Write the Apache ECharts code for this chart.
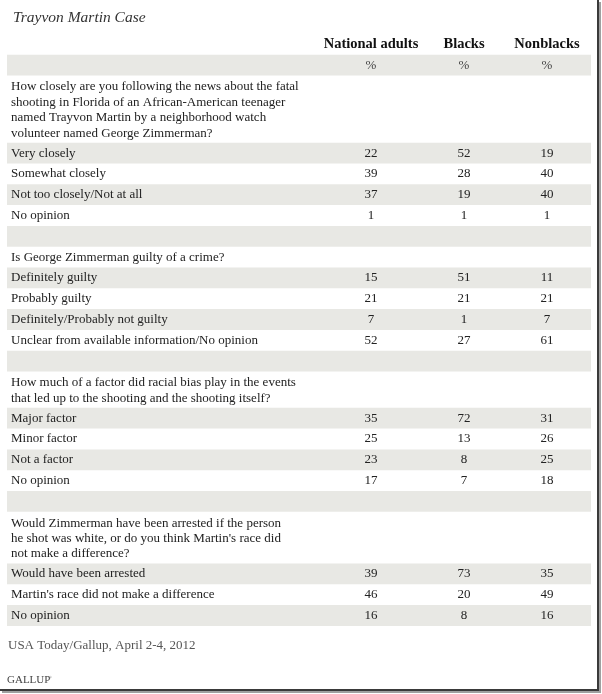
<!DOCTYPE html>
<html><head><meta charset="utf-8">
<script src="https://cdn.jsdelivr.net/npm/echarts@6/dist/echarts.min.js"></script>
<style>html,body{margin:0;padding:0;background:#fff}#c{width:602px;height:694px}</style>
</head><body><div id="c"></div>
<script>
// ---------- data ----------
const chartTitle = 'Trayvon Martin Case';
const columns = ['National adults', 'Blacks', 'Nonblacks'];
const unitLabel = '%';

const q1 = 'How closely are you following the news about the fatal\nshooting in Florida of an African-American teenager\nnamed Trayvon Martin by a neighborhood watch\nvolunteer named George Zimmerman?';
const q1Answers = ['Very closely', 'Somewhat closely', 'Not too closely/Not at all', 'No opinion'];
const q1National = [22, 39, 37, 1];
const q1Blacks = [52, 28, 19, 1];
const q1Nonblacks = [19, 40, 40, 1];

const q2 = 'Is George Zimmerman guilty of a crime?';
const q2Answers = ['Definitely guilty', 'Probably guilty', 'Definitely/Probably not guilty', 'Unclear from available information/No opinion'];
const q2National = [15, 21, 7, 52];
const q2Blacks = [51, 21, 1, 27];
const q2Nonblacks = [11, 21, 7, 61];

const q3 = 'How much of a factor did racial bias play in the events\nthat led up to the shooting and the shooting itself?';
const q3Answers = ['Major factor', 'Minor factor', 'Not a factor', 'No opinion'];
const q3National = [35, 25, 23, 17];
const q3Blacks = [72, 13, 8, 7];
const q3Nonblacks = [31, 26, 25, 18];

const q4 = "Would Zimmerman have been arrested if the person\nhe shot was white, or do you think Martin's race did\nnot make a difference?";
const q4Answers = ['Would have been arrested', "Martin's race did not make a difference", 'No opinion'];
const q4National = [39, 46, 16];
const q4Blacks = [73, 20, 8];
const q4Nonblacks = [35, 49, 16];

const sourceNote = 'USA Today/Gallup, April 2-4, 2012';
const brand = 'GALLUP';

// ---------- layout / style ----------
const FONT = '"Liberation Serif", "DejaVu Serif", serif';
const FS = 13;
const ROW_H = 20.8, LINE_H = 15.4, PAD = 4;
const TABLE_W = 584;
const COL_X = [364, 457, 540];
const TEXT_X = 4;
const BAND = '#e8e8e4';
const INK = '#222';

const blocks = [
  [q1, q1Answers, [q1National, q1Blacks, q1Nonblacks]],
  [q2, q2Answers, [q2National, q2Blacks, q2Nonblacks]],
  [q3, q3Answers, [q3National, q3Blacks, q3Nonblacks]],
  [q4, q4Answers, [q4National, q4Blacks, q4Nonblacks]]
];

const rows = [];
rows.push({ kind: 'header', h: ROW_H });
rows.push({ kind: 'unit', h: ROW_H });
blocks.forEach((b, bi) => {
  if (bi > 0) rows.push({ kind: 'blank', h: ROW_H });
  const n = b[0].split('\n').length;
  rows.push({ kind: 'question', text: b[0], h: n === 1 ? ROW_H : PAD + n * LINE_H + 1.5 });
  b[1].forEach((a, ai) => rows.push({ kind: 'answer', text: a, vals: b[2].map(s => s[ai]) }));
});
let y = 0;
rows.forEach((r, i) => {
  if (!r.h) r.h = ROW_H;
  r.y0 = y; r.y1 = y + r.h; r.yc = y + r.h / 2; y += r.h;
  r.shade = r.kind !== 'header' && (i - 1) % 2 === 0;
});
const TOTAL = y;

const bandData = rows.filter(r => r.shade).map(r => [r.y0, r.y1]);
const labelRows = rows.filter(r => r.kind === 'question' || r.kind === 'answer');
const labelData = labelRows.map(r => [TEXT_X, r.kind === 'question' && r.text.indexOf('\n') >= 0 ? r.yc + 1 : r.yc]);
const headerRow = rows[0], unitRow = rows[1];
const answerRows = rows.filter(r => r.kind === 'answer');

function textItem(x, yy, txt, opts) {
  return {
    type: 'text', x: x, y: yy,
    style: Object.assign({ text: txt, fill: INK, fontFamily: FONT, fontSize: FS, align: 'left', verticalAlign: 'middle' }, opts || {})
  };
}

const series = [
  {
    type: 'custom', name: 'bands', silent: true, z: 1,
    data: bandData,
    renderItem: (p, api) => {
      const a = api.coord([0, api.value(0)]);
      const b = api.coord([TABLE_W, api.value(1)]);
      return { type: 'rect', shape: { x: a[0], y: a[1], width: b[0] - a[0], height: b[1] - a[1] }, style: { fill: BAND } };
    }
  },
  {
    type: 'custom', name: 'labels', silent: true, z: 3,
    data: labelData,
    renderItem: (p, api) => {
      const c = api.coord([api.value(0), api.value(1)]);
      return textItem(c[0], c[1], labelRows[p.dataIndex].text, { lineHeight: LINE_H });
    }
  },
  {
    type: 'custom', name: 'header', silent: true, z: 3,
    data: columns.map((c, i) => [COL_X[i], headerRow.yc]),
    renderItem: (p, api) => {
      const c = api.coord([api.value(0), api.value(1)]);
      return textItem(c[0], c[1], columns[p.dataIndex], { align: 'center', fontWeight: 'bold', fontSize: 14.5, fill: '#111' });
    }
  },
  {
    type: 'custom', name: 'unit', silent: true, z: 3,
    data: columns.map((c, i) => [COL_X[i], unitRow.yc]),
    renderItem: (p, api) => {
      const c = api.coord([api.value(0), api.value(1)]);
      return textItem(c[0], c[1], unitLabel, { align: 'center', fill: '#444' });
    }
  }
];
columns.forEach((col, ci) => {
  series.push({
    type: 'custom', name: col, silent: true, z: 3,
    data: answerRows.map(r => [COL_X[ci], r.yc, r.vals[ci]]),
    renderItem: (p, api) => {
      const c = api.coord([api.value(0), api.value(1)]);
      return textItem(c[0], c[1], String(api.value(2)), { align: 'center' });
    }
  });
});

const chart = echarts.init(document.getElementById('c'), null, { renderer: 'canvas' });
chart.setOption({
  animation: false,
  backgroundColor: '#fff',
  title: {
    text: chartTitle, left: 8, top: 5,
    textStyle: { fontFamily: FONT, fontStyle: 'italic', fontWeight: 'normal', fontSize: 15.5, color: '#333' }
  },
  grid: { left: 7, top: 34, width: TABLE_W, height: TOTAL },
  xAxis: { type: 'value', min: 0, max: TABLE_W, show: false },
  yAxis: { type: 'value', min: 0, max: TOTAL, inverse: true, show: false },
  series: series,
  graphic: [
    { type: 'text', left: 8, top: 639, style: { text: sourceNote, fontFamily: FONT, fontSize: 13, fill: '#555' } },
    { type: 'text', left: 7, top: 675, style: { text: brand, fontFamily: FONT, fontSize: 11, fill: '#444' } },
    { type: 'text', left: 48, top: 675, style: { text: '\u00AE', fontFamily: FONT, fontSize: 5, fill: '#666' } },
    { type: 'rect', shape: { x: 597, y: 0, width: 2, height: 691 }, style: { fill: '#3a3a3a' } },
    { type: 'rect', shape: { x: 599, y: 2, width: 2, height: 691 }, style: { fill: '#a0a0a0' } },
    { type: 'rect', shape: { x: 0, y: 689, width: 599, height: 2 }, style: { fill: '#3a3a3a' } },
    { type: 'rect', shape: { x: 2, y: 691, width: 599, height: 2 }, style: { fill: '#a0a0a0' } }
  ]
});
</script>
</body></html>
